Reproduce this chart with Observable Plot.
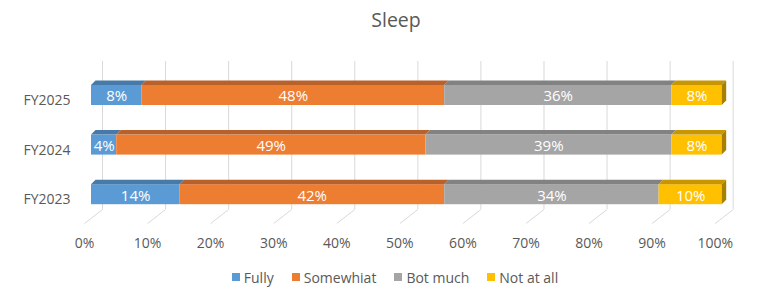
<!DOCTYPE html>
<html>
<head>
<meta charset="utf-8">
<script src="https://cdn.jsdelivr.net/npm/d3@7"></script>
<script src="https://cdn.jsdelivr.net/npm/@observablehq/plot@0.6"></script>
<style>
  html, body { margin: 0; padding: 0; background: #fff; }
  body { width: 770px; height: 305px; overflow: hidden; font-family: "Open Sans", sans-serif; color: #595959; }
  #title { height: 40px; line-height: 40px; text-align: center; font-size: 19.5px; padding-left: 22px; box-sizing: border-box; }
  #legend { display: flex; justify-content: center; align-items: center; height: 50px; padding-left: 20px; padding-bottom: 6px; box-sizing: border-box; font-size: 14px; }
  .item { display: flex; align-items: center; margin: 0 9px; }
  .sw { width: 8px; height: 8px; margin-right: 4px; }
  svg { display: block; }
</style>
</head>
<body>
<div id="title">Sleep</div>
<div id="chart"></div>
<div id="legend"></div>
<script>
// ---- data ----
const categories = ["FY2025", "FY2024", "FY2023"];
const seriesNames = ["Fully", "Somewhiat", "Bot much", "Not at all"];
const fully = [8, 4, 14];
const somewhat = [48, 49, 42];
const botMuch = [36, 39, 34];
const notAtAll = [8, 8, 10];
const tickValues = [0, 10, 20, 30, 40, 50, 60, 70, 80, 90, 100];

// ---- styling ----
const frontColors = ["#5B9BD5", "#ED7D31", "#A5A5A5", "#FFC000"];
const topColors = ["#477aa8", "#b9612a", "#828282", "#c79600"];
const sideColor = "#a88000";
const gridColor = "#d9d9d9";
const textColor = "#595959";

// ---- layout ----
const W = 770, H = 215;
const mL = 91, mR = 48.3;
const pxPerUnitX = (W - mL - mR) / 100;
const yStart = 55, yStep = 49.6;           // center of first band & band spacing (px)
const pxY = v => v / yStep;                // px -> y units
const pxX = v => v / pxPerUnitX;           // px -> x units
const halfFront = pxY(10);
const depthX = pxX(4.5), depthY = pxY(4.5);
const wallDx = 11, floorDx = -7;
const wallTop = pxY(21 - yStart), wallBottom = pxY(169 - yStart), floorFront = pxY(183 - yStart);
const tickRow = pxY(203 - yStart);

const allSeries = [fully, somewhat, botMuch, notAtAll];
const segs = [];
categories.forEach((c, i) => {
  let acc = 0;
  allSeries.forEach((arr, k) => {
    segs.push({cat: c, i, k, start: acc, end: acc + arr[i], v: arr[i], key: c + "-" + k});
    acc += arr[i];
  });
});
const topPts = segs.flatMap(s => [
  {key: s.key, k: s.k, y: s.i - halfFront, x1: s.start, x2: s.end},
  {key: s.key, k: s.k, y: s.i - halfFront - depthY, x1: s.start + depthX, x2: s.end + depthX}
]);
const lastSegs = segs.filter(s => s.k === allSeries.length - 1);
const sidePts = lastSegs.flatMap(s => [
  {key: s.key, x: s.end, y1: s.i - halfFront, y2: s.i + halfFront},
  {key: s.key, x: s.end + depthX, y1: s.i - halfFront - depthY, y2: s.i + halfFront - depthY}
]);

const marks = [
  Plot.ruleX(tickValues, {x: d => d, y1: wallTop, y2: wallBottom, dx: wallDx, stroke: gridColor, strokeWidth: 1}),
  Plot.link(tickValues, {x1: d => d + pxX(wallDx), x2: d => d + pxX(floorDx), y1: wallBottom, y2: floorFront, stroke: gridColor, strokeWidth: 1})
];
allSeries.forEach((arr, k) => {
  marks.push(Plot.rect(segs.filter(s => s.k === k), {x1: "start", x2: "end", y1: s => s.i - halfFront, y2: s => s.i + halfFront, fill: frontColors[k]}));
  marks.push(Plot.areaX(topPts.filter(p => p.k === k), {y: "y", x1: "x1", x2: "x2", z: "key", fill: topColors[k]}));
});
marks.push(Plot.areaY(sidePts, {x: "x", y1: "y1", y2: "y2", z: "key", fill: sideColor}));
marks.push(Plot.text(segs, {x: s => (s.start + s.end) / 2, y: "i", text: s => s.v + "%", fill: "white", fontSize: 15, dy: 1}));
marks.push(Plot.text(tickValues, {x: d => d, y: tickRow, text: d => d + "%", dx: floorDx, fill: textColor, fontSize: 14}));
marks.push(Plot.text(categories, {x: 0, y: (d, i) => i, text: d => d, textAnchor: "end", dx: -21, dy: 5, fill: textColor, fontSize: 14}));

const chart = Plot.plot({
  width: W, height: H,
  marginLeft: mL, marginRight: mR, marginTop: 0, marginBottom: 0,
  x: {domain: [0, 100], axis: null},
  y: {domain: [0, 2], range: [yStart, yStart + 2 * yStep], axis: null},
  style: {fontFamily: "Open Sans", background: "white", overflow: "visible"},
  marks
});
document.getElementById("chart").appendChild(chart);

const legend = document.getElementById("legend");
seriesNames.forEach((n, k) => {
  const it = document.createElement("div");
  it.className = "item";
  it.innerHTML = `<div class="sw" style="background:${frontColors[k]}"></div><span>${n}</span>`;
  legend.appendChild(it);
});
</script>
</body>
</html>
